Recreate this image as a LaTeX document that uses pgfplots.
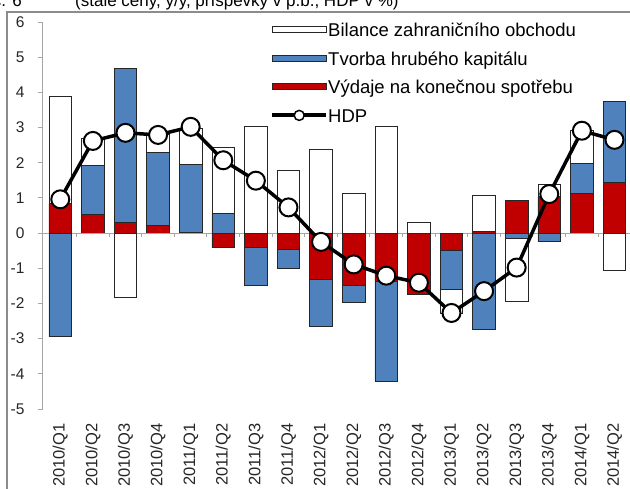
\documentclass[border=0pt]{standalone}
\usepackage{pgfplots}
\pgfplotsset{compat=1.18}
\usepackage{pgfplotstable}
\usepackage{fontspec}
\setmainfont{Liberation Sans}
\definecolor{cblue}{HTML}{4F81BD}
\definecolor{cred}{HTML}{C00000}
\definecolor{axgray}{HTML}{A6A6A6}
\definecolor{edge}{HTML}{262626}
\definecolor{frame}{HTML}{8C8C8C}

% positive contributions (stacked upwards from 0)
\pgfplotstableread{
x rp bp wp
0 0.83 0.00 3.06
1 0.53 1.40 0.76
2 0.31 4.38 0.00
3 0.23 2.06 0.51
4 0.02 1.94 1.02
5 0.00 0.56 1.88
6 0.00 0.00 3.02
7 0.00 0.00 1.77
8 0.00 0.00 2.39
9 0.00 0.00 1.12
10 0.00 0.00 3.02
11 0.00 0.00 0.30
12 0.00 0.00 0.00
13 0.04 0.00 1.04
14 0.94 0.00 0.00
15 1.03 0.00 0.34
16 1.12 0.87 0.94
17 1.44 2.30 0.00
}\postab
% negative contributions (stacked downwards from 0)
\pgfplotstableread{
x rn bn wn
0 0.00 -2.95 0.00
1 0.00 0.00 0.00
2 0.00 0.00 -1.84
3 0.00 0.00 0.00
4 0.00 0.00 0.00
5 -0.41 0.00 0.00
6 -0.42 -1.06 0.00
7 -0.46 -0.54 0.00
8 -1.31 -1.34 0.00
9 -1.48 -0.49 0.00
10 -1.38 -2.83 0.00
11 -1.73 0.00 0.00
12 -0.50 -1.09 -0.68
13 0.00 -2.73 0.00
14 0.00 -0.15 -1.80
15 0.00 -0.25 0.00
16 0.00 0.00 0.00
17 0.00 0.00 -1.07
}\negtab
\pgfplotstableread{
x hdp
0 0.96
1 2.62
2 2.85
3 2.79
4 3.02
5 2.07
6 1.49
7 0.73
8 -0.25
9 -0.89
10 -1.21
11 -1.41
12 -2.27
13 -1.65
14 -0.98
15 1.11
16 2.91
17 2.65
}\hdptab

\pgfplotsset{
  base/.style={
    x=32.6pt, y=35.18pt,
    xmin=-0.53, xmax=17.5, ymin=-5, ymax=6,
    enlargelimits=false,
    at={(43pt,79pt)}, anchor=south west,
    clip=false,
  },
  hidden/.style={base, hide axis},
  bars/.style={fill=#1, draw=edge, line width=0.8pt, bar width=22.7pt},
  barleg/.style={legend image code/.code={\draw[##1] (0pt,-0.5pt) rectangle (54pt,5.5pt);}},
  lineleg/.style={legend image code/.code={%
      \draw[black, line width=4pt] (0pt,3pt) -- (54pt,3pt);
      \draw[fill=white, draw=black, line width=1.5pt] (27pt,3pt) circle (5pt);}},
}

\begin{document}
\begin{tikzpicture}
\useasboundingbox (0,0) rectangle (630pt,488pt);
\clip (0,0) rectangle (630pt,488pt);
\draw[frame, line width=1.5pt] (7pt,-20pt) rectangle (650pt,476pt);
\node[anchor=base east, inner sep=0pt, font=\fontsize{17}{18}\selectfont] at (22pt,481pt) {Graf č. 6};
\node[anchor=base west, inner sep=0pt, font=\fontsize{17}{18}\selectfont] at (75pt,481pt) {(stálé ceny, y/y, příspěvky v p.b., HDP v \%)};

% positive stacks + visible axes
\begin{axis}[base, ybar stacked,
  axis x line*=bottom, axis y line*=left,
  x axis line style={draw=none},
  y axis line style={draw=axgray, line width=1pt, -},
  xtick={0,...,17},
  xticklabels={2010/Q1,2010/Q2,2010/Q3,2010/Q4,2011/Q1,2011/Q2,2011/Q3,2011/Q4,2012/Q1,2012/Q2,2012/Q3,2012/Q4,2013/Q1,2013/Q2,2013/Q3,2013/Q4,2014/Q1,2014/Q2},
  xtick style={draw=none},
  ytick={-5,-4,...,6},
  ytick style={draw=axgray, line width=1pt},
  tick align=outside, major tick length=5pt,
  tick label style={text=black!85},
  yticklabel style={font=\fontsize{15.5}{16}\selectfont, xshift=-10pt},
  xticklabel style={font=\fontsize{16.5}{17}\selectfont, yshift=-6pt, rotate=90, anchor=east},
  /pgf/number format/assume math mode=true,
]
\draw[axgray, line width=1pt] (axis cs:-0.53,0) -- (axis cs:17.5,0);
\pgfplotsinvokeforeach{0.5,1.5,2.5,3.5,4.5,5.5,6.5,7.5,8.5,9.5,10.5,11.5,12.5,13.5,14.5,15.5,16.5,17.5}{
  \draw[axgray, line width=1pt] (axis cs:#1,0) -- ([yshift=-4pt]axis cs:#1,0);
}
\addplot[bars=cred] table[x=x,y=rp]{\postab};
\addplot[bars=cblue] table[x=x,y=bp]{\postab};
\addplot[bars=white] table[x=x,y=wp]{\postab};
\end{axis}

% negative stacks
\begin{axis}[hidden, ybar stacked]
\addplot[bars=cred] table[x=x,y=rn]{\negtab};
\addplot[bars=cblue] table[x=x,y=bn]{\negtab};
\addplot[bars=white] table[x=x,y=wn]{\negtab};
\end{axis}

% HDP line + legend
\begin{axis}[hidden,
  legend cell align=left,
  legend style={at={(axis description cs:0.3862,0.995)}, anchor=north west,
    draw=none, fill=none, inner sep=0pt, row sep=12pt,
    font=\fontsize{18.5}{19}\selectfont,
    nodes={inner xsep=0pt, inner ysep=0pt, text height=12.5pt, text depth=4pt}},
]
\addlegendimage{barleg, fill=white, draw=edge, line width=0.8pt}
\addlegendentry{Bilance zahraničního obchodu}
\addlegendimage{barleg, fill=cblue, draw=edge, line width=0.8pt}
\addlegendentry{Tvorba hrubého kapitálu}
\addlegendimage{barleg, fill=cred, draw=edge, line width=0.8pt}
\addlegendentry{Výdaje na konečnou spotřebu}
\addplot[black, line width=3.5pt, mark=*, mark size=9pt,
  mark options={fill=white, draw=black, line width=2pt}, lineleg]
  table[x=x,y=hdp]{\hdptab};
\addlegendentry{HDP}
\end{axis}
\end{tikzpicture}
\end{document}
